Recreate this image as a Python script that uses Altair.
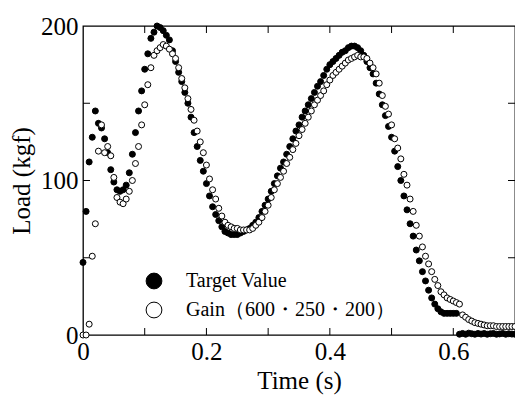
import altair as alt
import pandas as pd

# ---- data ----
time_s = [
    0.000, 0.005, 0.010, 0.015, 0.020, 0.025, 0.030, 0.035, 0.040, 0.045,
    0.050, 0.055, 0.060, 0.065, 0.070, 0.075, 0.080, 0.085, 0.090, 0.095,
    0.100, 0.105, 0.110, 0.115, 0.120, 0.125, 0.130, 0.135, 0.140, 0.145,
    0.150, 0.155, 0.160, 0.165, 0.170, 0.175, 0.180, 0.185, 0.190, 0.195,
    0.200, 0.205, 0.210, 0.215, 0.220, 0.225, 0.230, 0.235, 0.240, 0.245,
    0.250, 0.255, 0.260, 0.265, 0.270, 0.275, 0.280, 0.285, 0.290, 0.295,
    0.300, 0.305, 0.310, 0.315, 0.320, 0.325, 0.330, 0.335, 0.340, 0.345,
    0.350, 0.355, 0.360, 0.365, 0.370, 0.375, 0.380, 0.385, 0.390, 0.395,
    0.400, 0.405, 0.410, 0.415, 0.420, 0.425, 0.430, 0.435, 0.440, 0.445,
    0.450, 0.455, 0.460, 0.465, 0.470, 0.475, 0.480, 0.485, 0.490, 0.495,
    0.500, 0.505, 0.510, 0.515, 0.520, 0.525, 0.530, 0.535, 0.540, 0.545,
    0.550, 0.555, 0.560, 0.565, 0.570, 0.575, 0.580, 0.585, 0.590, 0.595,
    0.600, 0.605, 0.610, 0.615, 0.620, 0.625, 0.630, 0.635, 0.640, 0.645,
    0.650, 0.655, 0.660, 0.665, 0.670, 0.675, 0.680, 0.685, 0.690, 0.695,
    0.700,
]

target_load = [
    47, 80, 112, 128, 145, 137, 134, 127, 118, 107,
    99, 94, 93, 94, 97, 105, 117, 131, 145, 158,
    172, 182, 192, 196, 200, 199, 197, 194, 191, 184,
    177, 170, 164, 157, 150, 141, 131, 122, 113, 106,
    98, 90, 83, 78, 74, 70, 67, 66, 65, 65,
    65, 66, 67, 68, 69, 71, 73, 76, 80, 84,
    88, 93, 98, 103, 108, 112, 117, 122, 127, 132,
    136, 141, 145, 149, 153, 157, 161, 164, 168, 172,
    175, 177, 179, 181, 183, 184, 186, 187, 187, 186,
    184, 181, 177, 173, 169, 163, 156, 149, 142, 135,
    128, 119, 109, 100, 90, 81, 72, 64, 55, 48,
    41, 35, 29, 24, 20, 17, 15, 14, 14, 14,
    14, 14, 0.5, 1.0, 0.5, 1.2, 0.8, 0.5, 1.0, 0.6,
    1.0, 0.5, 0.8, 1.0, 0.5, 0.7, 1.0, 0.5, 0.8, 0.6,
    0.5,
]

gain_load = [
    0, 0, 7, 51, 72, 119, 136, 118, 122, 116,
    102, 89, 86, 85, 88, 93, 100, 111, 122, 136,
    149, 162, 173, 181, 184, 186, 188, 187, 185, 182,
    179, 173, 166, 160, 153, 146, 139, 132, 125, 118,
    110, 101, 94, 88, 82, 77, 73, 71, 70, 69,
    69, 68, 68, 68, 68, 69, 71, 73, 76, 80,
    84, 89, 94, 98, 102, 106, 111, 115, 120, 124,
    129, 133, 137, 141, 145, 149, 152, 155, 158, 162,
    165, 168, 170, 172, 174, 176, 178, 179, 180, 181,
    180, 180, 179, 176, 173, 169, 163, 155, 148, 143,
    136, 127, 121, 114, 104, 97, 88, 80, 71, 64,
    57, 51, 46, 41, 36, 32, 28, 26, 24, 23,
    22, 21, 20, 13, 11.5, 10, 9, 8, 7.5, 7,
    6.5, 6, 6, 6, 5.5, 5.5, 5.5, 5.5, 5.5, 5.5,
    5.5,
]

series_names = ["Target Value", "Gain（600・250・200）"]
x_tick_minor = [0.1, 0.2, 0.3, 0.4, 0.5, 0.6]
y_tick_minor = [50, 100, 150]
x_labels = [0, 0.2, 0.4, 0.6]
y_labels = [0, 100, 200]

FONT = "Liberation Serif"
W, H = 432, 309

df = pd.DataFrame(
    {
        "t": time_s + time_s,
        "load": target_load + gain_load,
        "series": [series_names[0]] * len(time_s) + [series_names[1]] * len(time_s),
        "order": list(range(2 * len(time_s))),
    }
)

xscale = alt.Scale(domain=[0, 0.7], nice=False, zero=False)
yscale = alt.Scale(domain=[0, 200], nice=False)

points = (
    alt.Chart(df)
    .mark_point(filled=True, stroke="black", strokeWidth=1, size=36, opacity=1, strokeOpacity=1, fillOpacity=1)
    .encode(
        x=alt.X(
            "t:Q",
            scale=xscale,
            axis=alt.Axis(
                values=x_labels,
                labelExpr="datum.value == 0 ? '0' : format(datum.value, '.1f')",
                title="Time (s)",
                ticks=False,
                domain=False,
                grid=False,
                labelFlush=False,
                labelOverlap=False,
                labelPadding=4,
                titlePadding=4,
            ),
        ),
        y=alt.Y(
            "load:Q",
            scale=yscale,
            axis=alt.Axis(
                values=y_labels,
                title="Load (kgf)",
                ticks=False,
                domain=False,
                grid=False,
                labelFlush=False,
                labelOverlap=False,
                labelPadding=5,
                titlePadding=6,
            ),
        ),
        fill=alt.Fill(
            "series:N",
            scale=alt.Scale(domain=series_names, range=["black", "white"]),
            legend=alt.Legend(
                orient="none",
                legendX=61,
                legendY=245,
                title=None,
                symbolType="circle",
                symbolSize=250,
                symbolStrokeColor="black",
                symbolStrokeWidth=1,
                symbolOpacity=1,
                labelFont=FONT,
                labelFontSize=20,
                labelColor="black",
                labelOffset=22,
                labelLimit=0,
                rowPadding=9,
                padding=0,
            ),
        ),
        order=alt.Order("order:Q"),
    )
)

xt = pd.DataFrame({"v": x_tick_minor})
yt = pd.DataFrame({"v": y_tick_minor})

tick_style = dict(color="black", strokeWidth=1)
bottom_ticks = alt.Chart(xt).mark_rule(**tick_style).encode(
    x=alt.X("v:Q", scale=xscale), y=alt.value(H), y2=alt.value(H - 7)
)
top_ticks = alt.Chart(xt).mark_rule(**tick_style).encode(
    x=alt.X("v:Q", scale=xscale), y=alt.value(0), y2=alt.value(7)
)
left_ticks = alt.Chart(yt).mark_rule(**tick_style).encode(
    y=alt.Y("v:Q", scale=yscale), x=alt.value(0), x2=alt.value(7)
)
right_ticks = alt.Chart(yt).mark_rule(**tick_style).encode(
    y=alt.Y("v:Q", scale=yscale), x=alt.value(W), x2=alt.value(W - 7)
)

chart = (
    alt.layer(bottom_ticks, top_ticks, left_ticks, right_ticks, points)
    .properties(
        width=W,
        height=H,
        padding={"left": 83, "top": 26, "right": 0, "bottom": 61},
        autosize=alt.AutoSizeParams(type="none"),
        background="white",
    )
    .configure_view(stroke="black", strokeWidth=1.3)
    .configure_axis(
        labelFont=FONT,
        labelFontSize=25,
        labelColor="black",
        titleFont=FONT,
        titleFontSize=25,
        titleFontWeight="normal",
        titleColor="black",
    )
)

chart.save("out.html", embed_options={"renderer": "svg", "actions": False})
